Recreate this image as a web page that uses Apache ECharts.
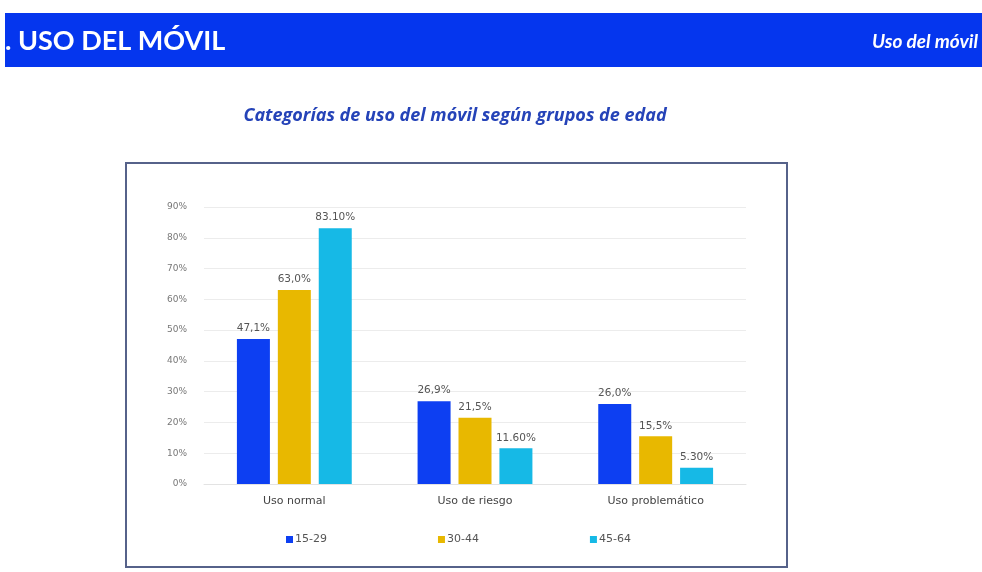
<!DOCTYPE html>
<html>
<head>
<meta charset="utf-8">
<script src="https://cdn.jsdelivr.net/npm/echarts@6/dist/echarts.min.js"></script>
<style>
  html, body { margin: 0; padding: 0; background: #ffffff; }
  #chart { width: 982px; height: 572px; }
</style>
</head>
<body>
<div id="chart"></div>
<script>
// Usage categories and age groups
const categories = ['Uso normal', 'Uso de riesgo', 'Uso problemático'];
const ageGroups = ['15-29', '30-44', '45-64'];

// Percentage of each age group in each usage category
const values1529 = [47.1, 26.9, 26.0];
const values3044 = [63.0, 21.5, 15.5];
const values4564 = [83.1, 11.6, 5.3];

// Y axis ticks (percent)
const yMin = 0, yMax = 90, yStep = 10;

const colors = ['#0d3ff2', '#e8b800', '#16b9e6'];

// Value label formats per series: one decimal with comma, or two decimals with dot
const labelFormats = [
  v => v.toFixed(1).replace('.', ',') + '%',
  v => v.toFixed(1).replace('.', ',') + '%',
  v => v.toFixed(2) + '%'
];

const seriesValues = [values1529, values3044, values4564];

const chart = echarts.init(document.getElementById('chart'), null, { renderer: 'canvas' });

const option = {
  backgroundColor: '#ffffff',
  animation: false,
  graphic: [
    { type: 'rect', shape: { x: 5, y: 13, width: 977, height: 54 }, style: { fill: '#0536ee' }, z: 0 },
    { type: 'text', x: 5, y: 41, style: { text: '. USO DEL MÓVIL', fill: '#ffffff', font: 'bold 27px Lato', textVerticalAlign: 'middle' } },
    { type: 'text', x: 978, y: 42, style: { text: 'Uso del móvil', fill: '#ffffff', font: 'italic bold 19px Lato', textAlign: 'right', textVerticalAlign: 'middle' } },
    { type: 'text', x: 455, y: 116, style: { text: 'Categorías de uso del móvil según grupos de edad', fill: '#2543b8', font: 'italic bold 18px "Open Sans"', textAlign: 'center', textVerticalAlign: 'middle' } },
    { type: 'rect', shape: { x: 126, y: 163, width: 661, height: 404 }, style: { fill: 'none', stroke: '#56628a', lineWidth: 2 }, z: 0 }
  ],
  grid: { left: 204, right: 236, top: 207, bottom: 88 },
  legend: {
    data: ageGroups,
    left: 281,
    top: 529,
    itemWidth: 7,
    itemHeight: 7,
    itemGap: 111,
    icon: 'rect',
    textStyle: { color: '#555', fontSize: 11, fontFamily: 'DejaVu Sans', padding: [0, 0, 0, -3] }
  },
  xAxis: {
    type: 'category',
    data: categories,
    axisLine: { lineStyle: { color: '#e3e3e3' } },
    axisTick: { show: false },
    axisLabel: { color: '#444', fontSize: 11, fontFamily: 'DejaVu Sans', margin: 12 }
  },
  yAxis: {
    type: 'value',
    min: yMin,
    max: yMax,
    interval: yStep,
    axisLine: { show: false },
    axisTick: { show: false },
    splitLine: { lineStyle: { color: '#ececec' } },
    axisLabel: { formatter: '{value}%', color: '#777', fontSize: 9, fontFamily: 'DejaVu Sans', margin: 17 }
  },
  series: ageGroups.map((name, i) => ({
    name: name,
    type: 'bar',
    data: seriesValues[i],
    barWidth: 33,
    barGap: '24%',
    itemStyle: { color: colors[i] },
    label: {
      show: true,
      position: 'top',
      distance: 5,
      color: '#555',
      fontSize: 10.5,
      fontFamily: 'DejaVu Sans',
      formatter: p => labelFormats[i](p.value)
    }
  }))
};

chart.setOption(option);
</script>
</body>
</html>
